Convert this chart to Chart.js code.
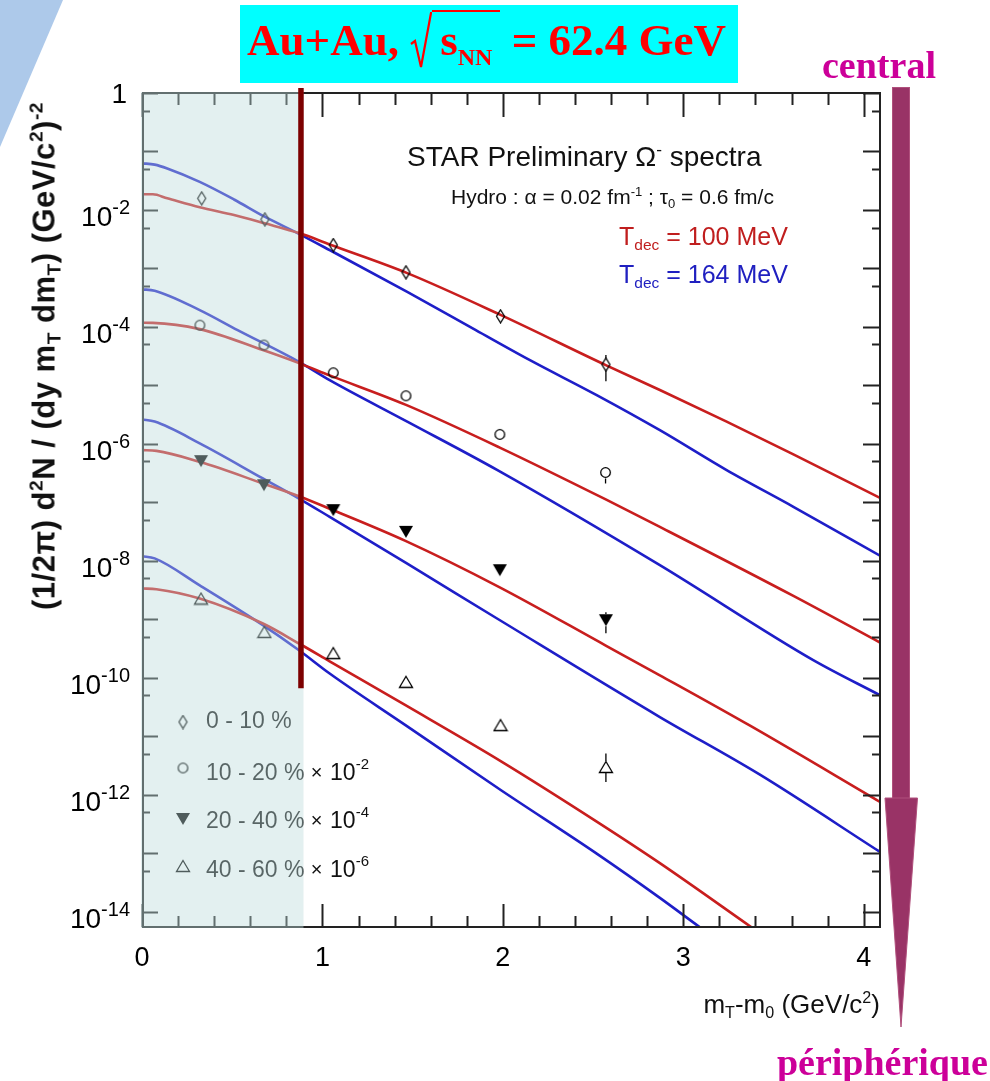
<!DOCTYPE html>
<html>
<head>
<meta charset="utf-8">
<script src="https://cdn.jsdelivr.net/npm/chart.js@4.4.1/dist/chart.umd.min.js"></script>
<style>
html,body{margin:0;padding:0;background:#fff;}
#wrap{position:relative;width:990px;height:1081px;overflow:hidden;}
#deco{position:absolute;left:0;top:0;}
#c{position:absolute;left:0;top:0;}
.t{position:absolute;white-space:nowrap;line-height:1;font-family:'Liberation Sans',Arial,sans-serif;color:#111;}
.sup{font-size:0.62em;position:relative;top:-0.62em;}
.sub{font-size:0.62em;position:relative;top:0.3em;}
.s{position:absolute;white-space:nowrap;line-height:1;font:bold 38px 'Liberation Serif',serif;color:#cc0099;}
#tbox{position:absolute;left:240px;top:5px;width:498px;height:78px;background:#00ffff;}
#ttl{position:absolute;left:247px;top:12px;height:78px;line-height:78px;white-space:nowrap;font:bold 45px 'Liberation Serif',serif;color:#ff0000;}
#ttl .ol{border-top:2px solid #ff0000;padding:3px 8px 0 8px;}
#ttl .nn{font-size:24px;position:relative;top:10px;}
#ttl svg{vertical-align:-14px;}
</style>
</head>
<body>
<div id="wrap">
<svg id="deco" width="990" height="1081">
  <polygon points="0,0 63,0 0,147" fill="#adc9ea"/>
  <rect x="892.5" y="87.5" width="17" height="711" fill="#993366" stroke="#b0507c" stroke-width="1"/>
  <polygon points="885,798 917.5,798 901,1027" fill="#993366" stroke="#b0507c" stroke-width="1"/>
</svg>
<canvas id="c" width="990" height="1081"></canvas>
<div id="tbox"></div>
<div id="ttl">Au+Au, <svg width="22" height="57" viewBox="0 0 22 57"><polyline points="1,32 5,29 11,55 21,1 22,1" fill="none" stroke="#ff0000" stroke-width="2.2"/></svg><span class="ol">s<span class="nn">NN</span></span> = 62.4 GeV</div>
<div class="s" style="left:822px;top:43px;">central</div>
<div class="s" style="right:2px;top:1040px;">périphérique</div>

<div class="t" style="left:407px;top:143px;font-size:28px;">STAR Preliminary Ω<span class="sup">-</span> spectra</div>
<div class="t" style="left:451px;top:186px;font-size:21px;">Hydro : α = 0.02 fm<span class="sup">-1</span> ; τ<span class="sub">0</span> = 0.6 fm/c</div>
<div class="t" style="left:619px;top:224px;font-size:25px;color:#c01e1e;">T<span class="sub">dec</span> = 100 MeV</div>
<div class="t" style="left:619px;top:262px;font-size:25px;color:#2020c0;">T<span class="sub">dec</span> = 164 MeV</div>

<div class="t" style="left:43.5px;top:356px;font-size:31px;letter-spacing:0.5px;font-weight:bold;transform:translate(-50%,-50%) rotate(-90deg);">(1/2π) d<span class="sup">2</span>N / (dy m<span class="sub">T</span> dm<span class="sub">T</span>) (GeV/c<span class="sup">2</span>)<span class="sup">-2</span></div>
<div class="t" style="right:110px;top:991px;font-size:26px;">m<span class="sub">T</span>-m<span class="sub">0</span> (GeV/c<span class="sup">2</span>)</div>
</div>

<script>
// ---------- data ----------
// measured points (m_T - m_0 in GeV/c^2, yield)
const ptsX_0_10  = [0.331, 0.681, 1.060, 1.463, 1.987, 2.571];
const ptsY_0_10  = [1.58e-2, 6.9e-3, 2.51e-3, 8.6e-4, 1.52e-4, 2.27e-5];
const ptsX_10_20 = [0.321, 0.676, 1.060, 1.463, 1.983, 2.569];
const ptsY_10_20 = [1.07e-4, 4.89e-5, 1.64e-5, 6.64e-6, 1.45e-6, 3.24e-7];
const ptsX_20_40 = [0.327, 0.676, 1.060, 1.463, 1.983, 2.571];
const ptsY_20_40 = [5.06e-7, 1.96e-7, 7.35e-8, 3.13e-8, 6.90e-9, 9.64e-10];
const ptsX_40_60 = [0.327, 0.678, 1.060, 1.463, 1.987, 2.571];
const ptsY_40_60 = [2.26e-9, 6.08e-10, 2.64e-10, 8.51e-11, 1.55e-11, 2.98e-12];
// error bars on last point of each centrality
const errLastLo = [1.18e-5, 2.10e-7, 5.77e-10, 1.65e-12];
const errLastHi = [3.30e-5, 3.90e-7, 1.32e-9, 5.05e-12];

// hydro curves, T_dec = 100 MeV (red) and 164 MeV (blue)
const redX_0_10  = [0, 0.06, 0.14, 0.32, 0.51, 0.68, 0.875, 1.04, 1.47, 1.99, 2.57, 2.87, 3.24, 3.61, 4.09];
const redY_0_10  = [1.85e-2, 1.85e-2, 1.58e-2, 1.11e-2, 8.18e-3, 5.90e-3, 3.98e-3, 2.57e-3, 8.32e-4, 1.59e-4, 2.22e-5, 8.32e-6, 2.40e-6, 6.61e-7, 1.19e-7];
const blueX_0_10 = [0, 0.07, 0.14, 0.32, 0.51, 0.68, 0.875, 1.04, 1.47, 1.85, 2.15, 2.52, 2.87, 3.24, 3.61, 4.09];
const blueY_0_10 = [6.27e-2, 5.96e-2, 5.13e-2, 3.02e-2, 1.51e-2, 7.66e-3, 3.83e-3, 2.06e-3, 3.98e-4, 8.81e-5, 2.70e-5, 6.81e-6, 1.71e-6, 3.55e-7, 8.38e-8, 1.22e-8];

const redX_10_20  = [0, 0.06, 0.32, 0.67, 0.87, 1.04, 1.46, 1.98, 2.57, 2.87, 3.61, 4.09];
const redY_10_20  = [1.175e-4, 1.17e-4, 9.16e-5, 4.01e-5, 2.40e-5, 1.48e-5, 4.68e-6, 8.71e-7, 1.12e-7, 3.80e-8, 2.51e-9, 4.00e-10];
const blueX_10_20 = [0, 0.07, 0.32, 0.53, 0.87, 1.04, 1.47, 1.97, 2.87, 3.72, 4.09];
const blueY_10_20 = [4.39e-4, 4.17e-4, 1.94e-4, 8.81e-5, 2.53e-5, 1.23e-5, 2.40e-6, 3.55e-7, 8.41e-9, 2.00e-10, 5.02e-11];

const redX_20_40  = [0, 0.08, 0.32, 0.67, 0.87, 1.04, 1.46, 1.98, 2.57, 2.87, 3.37, 4.09];
const redY_20_40  = [7.80e-7, 7.59e-7, 4.92e-7, 2.10e-7, 1.27e-7, 7.76e-8, 2.19e-8, 3.55e-9, 3.55e-10, 1.10e-10, 1.51e-11, 7.50e-13];
const blueX_20_40 = [0, 0.07, 0.32, 0.67, 0.87, 1.04, 1.47, 1.97, 2.87, 3.42, 4.09];
const blueY_20_40 = [2.61e-6, 2.40e-6, 1.02e-6, 2.56e-7, 1.16e-7, 5.64e-8, 8.91e-9, 1.02e-9, 2.13e-11, 2.24e-12, 1.05e-13];

const redX_40_60  = [0, 0.08, 0.32, 0.67, 0.87, 1.04, 1.46, 1.99, 2.52, 2.87, 3.37, 3.48];
const redY_40_60  = [3.36e-9, 3.27e-9, 2.26e-9, 8.45e-10, 3.85e-10, 1.91e-10, 3.39e-11, 3.72e-12, 3.47e-13, 6.76e-14, 5.62e-15, 3.24e-15];
const blueX_40_60 = [0, 0.07, 0.32, 0.67, 0.87, 1.04, 1.46, 1.99, 2.52, 2.87, 3.09, 3.20];
const blueY_40_60 = [1.20e-8, 1.10e-8, 3.80e-9, 7.94e-10, 2.95e-10, 1.18e-10, 1.55e-11, 1.19e-12, 9.82e-14, 1.72e-14, 5.46e-15, 3.09e-15];

// axes / labels
const xMin = 0, xMax = 4.09;
const yMin = 5.46e-15, yMax = 1;
const xTickLabels = [0, 1, 2, 3, 4];
const xMinorStep = 0.2;
const yLabelPowers = [0, -2, -4, -6, -8, -10, -12, -14];
const yTickPowers = [0, -1, -2, -3, -4, -5, -6, -7, -8, -9, -10, -11, -12, -13, -14];
const legendLabels = ['0 - 10 %', '10 - 20 %', '20 - 40 %', '40 - 60 %'];
const legendScale = ['', '-2', '-4', '-6'];
const shadeMaxX = 0.895;      // shaded low-m_T region
const cutX = 0.881, cutYLow = 6.6e-11; // vertical cut line

// ---------- marker images ----------
function mk(w, h, draw) { const c = document.createElement('canvas'); c.width = w; c.height = h; const g = c.getContext('2d'); draw(g, w, h); return c; }
const mDiamond = mk(11, 15, (g, w, h) => { g.strokeStyle = '#000'; g.lineWidth = 1.3; g.beginPath(); g.moveTo(w/2, 1); g.lineTo(w-1.5, h/2); g.lineTo(w/2, h-1); g.lineTo(1.5, h/2); g.closePath(); g.stroke(); });
const mCircle = mk(13, 13, (g, w, h) => { g.strokeStyle = '#000'; g.lineWidth = 1.3; g.beginPath(); g.arc(w/2, h/2, 4.8, 0, Math.PI*2); g.stroke(); });
const mTriDown = mk(16, 14, (g, w, h) => { g.fillStyle = '#000'; g.beginPath(); g.moveTo(1, 1); g.lineTo(w-1, 1); g.lineTo(w/2, h-1); g.closePath(); g.fill(); });
const mTriUp = mk(16, 14, (g, w, h) => { g.strokeStyle = '#000'; g.lineWidth = 1.3; g.beginPath(); g.moveTo(w/2, 1.5); g.lineTo(w-1.5, h-1.5); g.lineTo(1.5, h-1.5); g.closePath(); g.stroke(); });
const markers = [mDiamond, mCircle, mTriDown, mTriUp];

const zip = (xs, ys) => xs.map((x, i) => ({x: x, y: ys[i]}));
const RED = '#c81e1e', BLUE = '#1e1ec8';
function curve(xs, ys, col) {
  return { data: zip(xs, ys), borderColor: col, borderWidth: 2.6, pointRadius: 0, fill: false, cubicInterpolationMode: 'monotone', order: 2 };
}
function pts(xs, ys, m) {
  return { data: zip(xs, ys), showLine: false, pointStyle: m, pointRadius: 6, borderColor: '#000', backgroundColor: 'transparent', order: 0 };
}
const ptsXs = [ptsX_0_10, ptsX_10_20, ptsX_20_40, ptsX_40_60];
const ptsYs = [ptsY_0_10, ptsY_10_20, ptsY_20_40, ptsY_40_60];

const datasets = [
  curve(redX_0_10, redY_0_10, RED), curve(blueX_0_10, blueY_0_10, BLUE),
  curve(redX_10_20, redY_10_20, RED), curve(blueX_10_20, blueY_10_20, BLUE),
  curve(redX_20_40, redY_20_40, RED), curve(blueX_20_40, blueY_20_40, BLUE),
  curve(redX_40_60, redY_40_60, RED), curve(blueX_40_60, blueY_40_60, BLUE),
  pts(ptsX_0_10, ptsY_0_10, mDiamond), pts(ptsX_10_20, ptsY_10_20, mCircle),
  pts(ptsX_20_40, ptsY_20_40, mTriDown), pts(ptsX_40_60, ptsY_40_60, mTriUp)
];

const FONT = '"Liberation Sans", Arial, sans-serif';
const decor = {
  id: 'decor',
  afterDatasetsDraw(chart) {
    const ctx = chart.ctx, a = chart.chartArea, xs = chart.scales.x, ys = chart.scales.y;
    ctx.save();
    // error bars
    ctx.strokeStyle = '#000'; ctx.lineWidth = 1.3;
    for (let i = 0; i < 4; i++) {
      const n = ptsXs[i].length - 1;
      const px = xs.getPixelForValue(ptsXs[i][n]);
      const pc = ys.getPixelForValue(ptsYs[i][n]);
      const ph = ys.getPixelForValue(errLastHi[i]);
      const pl = ys.getPixelForValue(errLastLo[i]);
      ctx.beginPath();
      if (ph < pc - 6) { ctx.moveTo(px, ph); ctx.lineTo(px, pc - 6); }
      if (pl > pc + 6) { ctx.moveTo(px, pc + 6); ctx.lineTo(px, pl); }
      ctx.stroke();
    }
    // legend (inside shaded area)
    const lx = a.left + 41, tx = a.left + 64;
    const lBase = [728, 780, 828, 877], lMark = [722, 768, 819, 866];
    ctx.fillStyle = '#111'; ctx.textAlign = 'left'; ctx.textBaseline = 'alphabetic';
    for (let i = 0; i < 4; i++) {
      const m = markers[i];
      ctx.drawImage(m, lx - m.width/2, lMark[i] - m.height/2);
      ctx.font = '23px ' + FONT;
      let s = legendLabels[i];
      ctx.fillText(s, tx, lBase[i]);
      if (legendScale[i]) {
        let w = ctx.measureText(s + ' ').width;
        ctx.font = '20px ' + FONT;
        ctx.fillText('\u00d7', tx + w, lBase[i] - 1);
        w += ctx.measureText('\u00d7 ').width + 2;
        ctx.font = '23px ' + FONT;
        ctx.fillText('10', tx + w, lBase[i]);
        w += ctx.measureText('10').width;
        ctx.font = '15px ' + FONT;
        ctx.fillText(legendScale[i], tx + w, lBase[i] - 11);
      }
    }
    // frame and ticks
    ctx.strokeStyle = '#222'; ctx.lineWidth = 2;
    ctx.strokeRect(a.left + 1, a.top, a.right - a.left - 1, a.bottom - a.top);
    ctx.beginPath();
    for (const p of yTickPowers) {
      const py = Math.round(ys.getPixelForValue(Math.pow(10, p))) + 0.5;
      ctx.moveTo(a.left, py); ctx.lineTo(a.left + 16, py);
      ctx.moveTo(a.right, py); ctx.lineTo(a.right - 17, py);
      const v5 = 5 * Math.pow(10, p - 1);
      if (v5 >= yMin) {
        const q = Math.round(ys.getPixelForValue(v5)) + 0.5;
        ctx.moveTo(a.left, q); ctx.lineTo(a.left + 8, q);
        ctx.moveTo(a.right, q); ctx.lineTo(a.right - 8, q);
      }
    }
    for (let k = 0; k * xMinorStep <= xMax + 1e-9; k++) {
      const v = k * xMinorStep;
      const major = Math.abs(v - Math.round(v)) < 1e-6;
      const px = Math.round(xs.getPixelForValue(v)) + 0.5;
      const lb = major ? 23 : 11, lt = major ? 24 : 12;
      ctx.moveTo(px, a.bottom); ctx.lineTo(px, a.bottom - lb);
      ctx.moveTo(px, a.top); ctx.lineTo(px, a.top + lt);
    }
    ctx.stroke();
    // translucent shaded region
    const sx = xs.getPixelForValue(shadeMaxX);
    ctx.fillStyle = 'rgba(188,219,219,0.42)';
    ctx.fillRect(a.left - 1, a.top - 1, sx - a.left + 1, a.bottom - a.top + 2);
    // vertical cut line
    const cx = xs.getPixelForValue(cutX);
    ctx.strokeStyle = '#7d0000'; ctx.lineWidth = 5.5;
    ctx.beginPath(); ctx.moveTo(cx, a.top - 5); ctx.lineTo(cx, ys.getPixelForValue(cutYLow)); ctx.stroke();
    // tick labels
    ctx.fillStyle = '#000';
    for (const p of yLabelPowers) {
      const py = ys.getPixelForValue(Math.pow(10, p));
      const rx = a.left - 12;
      if (p === 0) {
        ctx.font = '28px ' + FONT; ctx.textAlign = 'right';
        ctx.fillText('1', rx - 3, py + 10);
      } else {
        ctx.font = '20px ' + FONT; ctx.textAlign = 'right';
        const e = String(p);
        ctx.fillText(e, rx, py + 4);
        const ew = ctx.measureText(e).width;
        ctx.font = '28px ' + FONT;
        ctx.fillText('10', rx - ew, py + 16);
      }
    }
    ctx.font = '27px ' + FONT; ctx.textAlign = 'center';
    for (const v of xTickLabels) {
      ctx.fillText(String(v), xs.getPixelForValue(v), a.bottom + 39);
    }
    ctx.restore();
  }
};

new Chart(document.getElementById('c'), {
  type: 'line',
  data: { datasets: datasets },
  options: {
    responsive: false, animation: false, devicePixelRatio: 1,
    layout: { padding: { left: 142, top: 93, right: 110, bottom: 154 } },
    plugins: { legend: { display: false }, tooltip: { enabled: false } },
    scales: {
      x: { type: 'linear', min: xMin, max: xMax, display: false },
      y: { type: 'logarithmic', min: yMin, max: yMax, display: false }
    }
  },
  plugins: [decor]
});
</script>
</body>
</html>
